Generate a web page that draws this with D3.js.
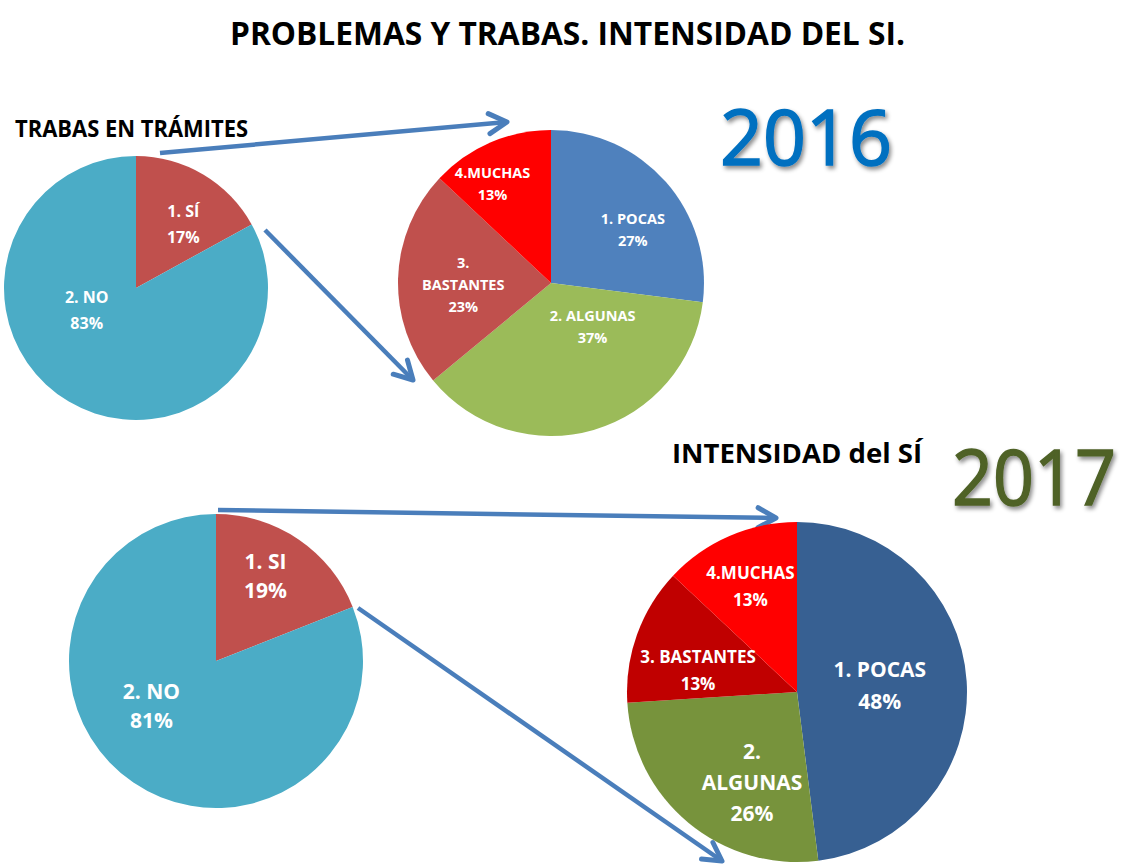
<!DOCTYPE html>
<html>
<head>
<meta charset="utf-8">
<script src="https://cdn.jsdelivr.net/npm/d3@7"></script>
<style>
  html, body { margin: 0; padding: 0; background: #fff; }
  svg { display: block; font-family: "Open Sans", "DejaVu Sans", sans-serif; }
</style>
</head>
<body>
<div id="chart"></div>
<script>
// chart values
const trabas2016Labels = [['1. SÍ'], ['2. NO']];
const trabas2016Values = [17, 83];
const intens2016Labels = [['1. POCAS'], ['2. ALGUNAS'], ['3.', 'BASTANTES'], ['4.MUCHAS']];
const intens2016Values = [27, 37, 23, 13];
const trabas2017Labels = [['1. SI'], ['2. NO']];
const trabas2017Values = [19, 81];
const intens2017Labels = [['1. POCAS'], ['2.', 'ALGUNAS'], ['3. BASTANTES'], ['4.MUCHAS']];
const intens2017Values = [48, 26, 13, 13];
const years = ['2016', '2017'];

const W = 1129, H = 865;
const arrowColor = '#4A7EBB';
const svg = d3.select('#chart').append('svg').attr('width', W).attr('height', H);

const defs = svg.append('defs');
defs.append('filter').attr('id', 'shadow').attr('x', '-10%').attr('y', '-10%').attr('width', '130%').attr('height', '140%')
  .append('feDropShadow').attr('dx', 2).attr('dy', 3).attr('stdDeviation', 2)
  .attr('flood-color', '#000').attr('flood-opacity', 0.45);
defs.append('marker').attr('id', 'head').attr('markerUnits', 'userSpaceOnUse')
  .attr('viewBox', '0 0 26 26').attr('refX', 22).attr('refY', 13)
  .attr('markerWidth', 26).attr('markerHeight', 26).attr('orient', 'auto')
  .append('path').attr('d', 'M4,3 L22,13 L4,23')
  .attr('fill', 'none').attr('stroke', arrowColor).attr('stroke-width', 5)
  .attr('stroke-linecap', 'round').attr('stroke-linejoin', 'round');

// titles
svg.append('text').attr('x', 230).attr('y', 45).attr('textLength', 675).attr('lengthAdjust', 'spacingAndGlyphs')
  .attr('font-size', 33).attr('font-weight', 700).attr('fill', '#000')
  .text('PROBLEMAS Y TRABAS. INTENSIDAD DEL SI.');
svg.append('text').attr('x', 15).attr('y', 137).attr('textLength', 233).attr('lengthAdjust', 'spacingAndGlyphs')
  .attr('font-size', 23).attr('font-weight', 700).attr('fill', '#000')
  .text('TRABAS EN TRÁMITES');
svg.append('text').attr('x', 672).attr('y', 463).attr('textLength', 250).attr('lengthAdjust', 'spacingAndGlyphs')
  .attr('font-size', 26).attr('font-weight', 700).attr('fill', '#000')
  .text('INTENSIDAD del SÍ');

svg.append('text').attr('x', 720).attr('y', 165).attr('textLength', 172).attr('lengthAdjust', 'spacingAndGlyphs')
  .attr('font-size', 77).attr('fill', '#0070C0').attr('stroke', '#0070C0').attr('stroke-width', 1.6)
  .attr('filter', 'url(#shadow)').text(years[0]);
svg.append('text').attr('x', 952).attr('y', 505).attr('textLength', 164).attr('lengthAdjust', 'spacingAndGlyphs')
  .attr('font-size', 77).attr('fill', '#4F6228').attr('stroke', '#4F6228').attr('stroke-width', 1.6)
  .attr('filter', 'url(#shadow)').text(years[1]);

// arrows between pies
const arrows = [
  [[160, 153], [507, 122]],
  [[265, 230], [413, 380]],
  [[218, 510], [776, 518]],
  [[358, 608], [722, 861]]
];
svg.append('g').selectAll('line').data(arrows).join('line')
  .attr('x1', d => d[0][0]).attr('y1', d => d[0][1])
  .attr('x2', d => d[1][0]).attr('y2', d => d[1][1])
  .attr('stroke', arrowColor).attr('stroke-width', 4.5)
  .attr('marker-end', 'url(#head)');

const pies = [
  { values: trabas2016Values, labels: trabas2016Labels, cx: 136, cy: 288, r: 132,
    colors: ['#C0504D', '#4BACC6'], fs: 16, lh: 26,
    nudge: [[7, 5], [-9, -46]] },
  { values: intens2016Values, labels: intens2016Labels, cx: 551, cy: 283, r: 153,
    colors: ['#4F81BD', '#9BBB59', '#C0504D', '#FF0000'], fs: 14.5, lh: 22,
    nudge: [[13, 8], [16, -44], [4, 5], [-22, -15]] },
  { values: trabas2017Values, labels: trabas2017Labels, cx: 216, cy: 661, r: 147,
    colors: ['#C0504D', '#4BACC6'], fs: 21, lh: 29,
    nudge: [[0, -12], [-15, -28]] },
  { values: intens2017Values, labels: intens2017Labels, cx: 797, cy: 692, r: 170,
    colors: ['#376092', '#77933C', '#C00000', '#FF0000'], fs: [21, 21, 17, 17], lh: [32, 31, 27, 27],
    nudge: [[-19, 0], [20, 12], [-3, 13], [-6, -12]] }
];

const pie = d3.pie().sort(null).value(d => d);

pies.forEach(p => {
  const g = svg.append('g').attr('transform', `translate(${p.cx},${p.cy})`);
  const arcs = pie(p.values);
  const arc = d3.arc().innerRadius(0).outerRadius(p.r);
  const labelArc = d3.arc().innerRadius(p.r * 0.6).outerRadius(p.r * 0.6);

  g.selectAll('path').data(arcs).join('path')
    .attr('d', arc).attr('fill', (d, i) => p.colors[i]);

  arcs.forEach((a, i) => {
    const [x, y] = labelArc.centroid(a);
    const fs = Array.isArray(p.fs) ? p.fs[i] : p.fs;
    const lh = Array.isArray(p.lh) ? p.lh[i] : p.lh;
    const lines = p.labels[i].concat([p.values[i] + '%']);
    const top = y + p.nudge[i][1] - (lines.length - 1) * lh / 2;
    const t = g.append('text').attr('text-anchor', 'middle').attr('fill', '#fff')
      .attr('font-weight', 700).attr('font-size', fs);
    lines.forEach((ln, j) => {
      t.append('tspan').attr('x', x + p.nudge[i][0]).attr('y', top + j * lh)
        .attr('dy', '0.35em').text(ln);
    });
  });
});
</script>
</body>
</html>
